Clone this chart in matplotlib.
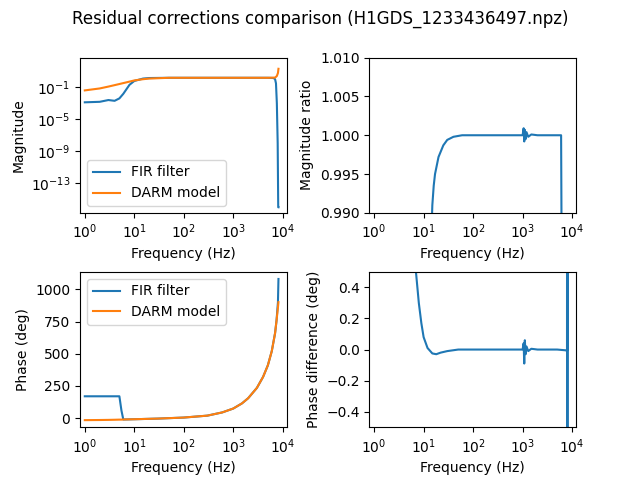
import matplotlib
matplotlib.use("Agg")
import matplotlib.pyplot as plt
import numpy as np

# Magnitude data
f_mag = [1, 2, 3, 4, 5, 6, 8, 10, 15, 20, 50, 100, 1000, 5000, 6500, 7000, 7300, 7600, 7900, 8100, 8192]
fir_mag = [1.3e-3, 1.5e-3, 2.5e-3, 2e-3, 4e-3, 1.5e-2, 0.2, 0.6, 1.2, 1.4, 1.5, 1.5, 1.5, 1.5, 1.4, 1.0, 0.3, 1e-3, 1e-8, 1e-16, 1e-16]
f_darm = [1, 2, 3, 5, 8, 10, 15, 20, 50, 100, 1000, 5000, 7000, 7600, 8000, 8192]
darm_mag = [0.04, 0.07, 0.12, 0.25, 0.5, 0.7, 1.0, 1.2, 1.5, 1.5, 1.5, 1.5, 1.6, 2.5, 6, 20]

# Magnitude ratio
f_ratio = [14, 14.5, 15, 16, 17, 20, 25, 30, 40, 60, 100, 500, 1000, 1050, 1080, 1110, 1150, 1200, 1300, 1500, 2000, 5000, 6000, 6100, 6200]
ratio = [0.98, 0.988, 0.991, 0.9935, 0.995, 0.9972, 0.9987, 0.9994, 0.9998, 1.0, 1.0, 1.0, 1.0, 1.0009, 0.9992, 1.0007, 0.9995, 1.0004, 0.9998, 1.0001, 1.0, 1.0, 1.0, 0.99, 0.98]

# Phase data
f_ph = [1, 2, 3, 4, 5, 5.5, 6, 10, 30, 100, 300, 600, 1000, 1500, 2000, 3000, 4000, 5000, 6000, 7000, 7500, 8000, 8192]
fir_ph = [170, 170, 170, 170, 170, 60, -10, -8, -3, 5, 20, 45, 75, 115, 155, 235, 320, 410, 520, 660, 760, 900, 1080]
darm_ph = [-15, -14, -13, -12, -11, -11, -10, -8, -3, 5, 20, 45, 75, 115, 155, 235, 320, 410, 520, 660, 760, 860, 900]

# Phase difference
f_pd = [7, 8, 9, 10, 12, 15, 18, 22, 30, 50, 100, 500, 1000, 1050, 1080, 1110, 1150, 1200, 1300, 1500, 2000, 5000, 7500, 7900, 8000, 8050, 8100, 8192]
phdiff = [0.5, 0.3, 0.17, 0.08, 0.01, -0.025, -0.03, -0.02, -0.01, 0.0, 0.0, 0.0, 0.0, 0.04, -0.09, 0.06, -0.03, 0.02, -0.01, 0.005, 0.0, 0.0, -0.005, -0.01, 5, -5, 5, 0]

fig, axs = plt.subplots(2, 2, figsize=(6.4, 4.8), dpi=100)
fig.suptitle("Residual corrections comparison (H1GDS_1233436497.npz)")
fig.subplots_adjust(wspace=0.4, hspace=0.38)

ax = axs[0, 0]
ax.loglog(f_mag, fir_mag, label="FIR filter")
ax.loglog(f_darm, darm_mag, label="DARM model")
ax.set_ylim(2e-17, 500)
ax.set_yticks([1e-13, 1e-9, 1e-5, 1e-1])
ax.set_xlabel("Frequency (Hz)")
ax.set_ylabel("Magnitude")
ax.legend(loc="lower left")

ax = axs[0, 1]
ax.semilogx(f_ratio, ratio)
ax.set_ylim(0.99, 1.01)
ax.set_xlabel("Frequency (Hz)")
ax.set_ylabel("Magnitude ratio")

ax = axs[1, 0]
ax.semilogx(f_ph, fir_ph, label="FIR filter")
ax.semilogx(f_ph, darm_ph, label="DARM model")
ax.set_xlabel("Frequency (Hz)")
ax.set_ylabel("Phase (deg)")
ax.legend(loc="upper left")

ax = axs[1, 1]
ax.semilogx(f_pd, phdiff)
ax.set_ylim(-0.5, 0.5)
ax.set_xlabel("Frequency (Hz)")
ax.set_ylabel("Phase difference (deg)")

for a in axs.flat:
    a.set_xlim(0.8, 12000)
    a.set_xticks([1, 10, 100, 1000, 10000])

fig.savefig("out.png")
